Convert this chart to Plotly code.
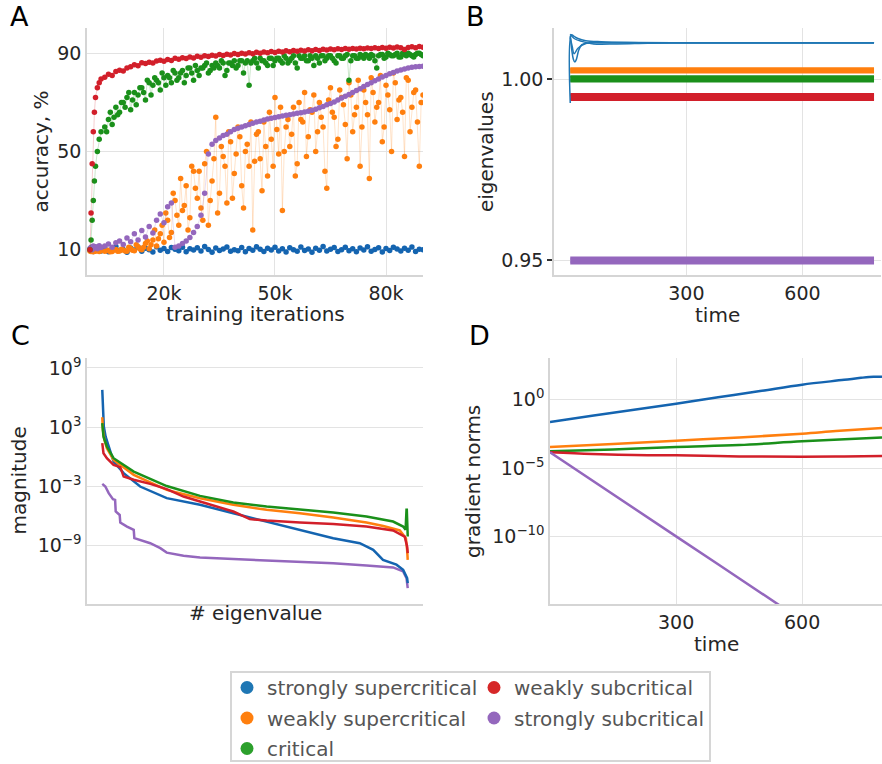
import plotly.graph_objects as go

W, H = 882, 764

# ---------------- Panel A: accuracy vs training iterations ----------------
ITER = [0, 300, 600, 900, 1200, 1500, 2000, 2500, 3000] + list(range(4000, 91000, 1000))
ITER_HALF = list(range(4500, 90000, 1000))

ACC_BLUE = [10.2, 9.6, 10.8, 9.3, 10.5, 11.0, 9.8, 10.3, 9.5,
            10.9, 9.2, 10.4, 11.3, 9.7, 10.1, 9.0, 10.7, 9.9, 11.1,
            9.4, 10.6, 10.0, 9.1, 11.2, 9.8, 10.5, 9.3, 10.9, 10.2,
            9.6, 11.0, 9.2, 10.4, 9.9, 10.8, 9.5, 11.3, 10.1, 9.0,
            10.7, 9.7, 10.3, 11.1, 9.4, 10.0, 9.6, 10.9, 9.2, 10.5,
            9.8, 11.2, 10.2, 9.3, 10.6, 9.9, 11.0, 9.5, 10.4, 9.1,
            10.8, 10.0, 9.4, 11.1, 9.7, 10.3, 9.0, 10.6, 9.8, 11.3,
            9.5, 10.2, 10.9, 9.3, 10.0, 11.0, 9.6, 10.4, 9.2, 10.7,
            9.9, 11.2, 9.4, 10.1, 10.8, 9.1, 10.5, 9.7, 11.0, 10.3,
            9.5, 10.6, 9.8, 11.1, 9.3, 10.2, 10.0]
ACC_ORANGE = [9.5, 9.3, 9.8, 9.2, 9.6, 9.4, 9.7, 9.3, 9.6,
              9.4, 9.8, 9.3, 10.1, 9.5, 9.9, 9.4, 10.5, 9.6, 11.2,
              10.0, 12.5, 10.4, 14.0, 11.5, 16.5, 13.0, 22.0, 17.0, 30.0,
              20.0, 26.0, 36.0, 23.0, 42.0, 31.0, 27.0, 45.0, 20.0, 38.0,
              64.0, 33.0, 48.0, 29.0, 54.0, 41.0, 60.0, 36.0, 50.0, 44.0,
              18.0, 57.0, 47.0, 62.0, 40.0, 55.0, 72.0, 49.0, 26.0, 60.0,
              52.0, 68.0, 45.0, 63.0, 74.0, 56.0, 66.0, 50.0, 70.0, 60.0,
              35.0, 76.0, 64.0, 55.0, 72.0, 61.0, 78.0, 58.0, 68.0, 44.0,
              75.0, 65.0, 80.0, 62.0, 70.0, 54.0, 77.0, 67.0, 82.0, 63.0,
              72.0, 48.0, 79.0, 68.0, 75.0, 44.0, 73.0]
ACC_ORANGE_HALF = [9.6, 9.2, 9.9, 9.4, 10.2, 9.5, 11.0, 9.8, 12.0, 10.3,
                   11.0, 13.5, 12.0, 18.0, 14.5, 20.0, 25.0, 15.0, 33.0, 24.0,
                   39.0, 28.0, 18.0, 44.0, 35.0, 42.0, 22.0, 50.0, 30.0, 47.0,
                   25.0, 52.0, 44.0, 58.0, 31.0, 49.0, 56.0, 27.0, 53.0, 62.0,
                   46.0, 58.0, 34.0, 52.0, 66.0, 44.0, 59.0, 68.0, 50.0, 63.0,
                   57.0, 40.0, 70.0, 62.0, 48.0, 67.0, 73.0, 58.0, 64.0, 42.0,
                   71.0, 66.0, 52.0, 75.0, 69.0, 47.0, 73.0, 65.0, 79.0, 60.0,
                   70.0, 39.0, 74.0, 68.0, 81.0, 60.0, 73.0, 50.0, 78.0, 71.0,
                   66.0, 80.0, 58.0, 74.0, 62.0, 70.0]
ACC_GREEN = [10, 14, 22, 30, 38, 44, 50, 55, 58,
             60, 63, 61, 68, 66, 70, 72, 67, 74, 73,
             76, 71, 78, 77, 79, 75, 80, 81, 78, 82,
             80, 83, 81, 84, 79, 83, 84, 85, 82, 85,
             86, 84, 86, 83, 86, 87, 85, 87, 86, 77,
             87, 86, 88, 87, 85, 88, 87, 88, 86, 88,
             87, 89, 84, 88, 89, 87, 88, 89, 86, 89,
             88, 89, 87, 89, 88, 89, 79, 89, 88, 89.5,
             88, 89, 89.5, 87, 89, 89.5, 88.5, 89.5, 89, 90,
             88.5, 89.5, 90, 89, 89.5, 90, 89]
ACC_GREEN_HALF = [58, 66, 64, 65, 70, 68, 74, 71, 69, 76,
                  74, 79, 73, 80, 78, 82, 77, 80, 83, 79,
                  82, 78, 84, 82, 85, 81, 84, 86, 83, 84,
                  85, 87, 81, 86, 85, 84, 87, 82, 87, 86,
                  88, 84, 87, 86, 88, 85, 88, 87, 89, 86,
                  88, 86, 89, 88, 87, 89, 85, 88, 89, 87,
                  89, 88, 86, 89, 88, 89.5, 87, 89, 88, 89,
                  89.5, 88, 89, 84, 89.5, 88, 90, 89, 89.5, 88.5,
                  90, 89, 89.5, 88.5, 90, 89.5]
ACC_RED = [10, 25, 45, 58, 66, 72, 76, 78, 79.5,
           80.2, 81.5, 81.0, 82.6, 83.1, 82.8, 84.0, 84.5, 85.3, 84.9,
           86.1, 85.8, 86.4, 86.0, 86.9, 87.2, 86.8, 87.5, 87.1, 88.0,
           87.6, 88.2, 87.9, 88.5, 88.1, 88.8, 88.4, 89.0, 88.7, 89.2,
           88.9, 89.5, 89.1, 89.6, 89.3, 89.9, 89.5, 90.0, 89.7, 90.2,
           89.8, 90.4, 90.0, 90.5, 90.2, 90.7, 90.3, 90.8, 90.5, 91.0,
           90.6, 91.1, 90.8, 91.2, 90.9, 91.4, 91.0, 91.5, 91.1, 91.6,
           91.3, 91.7, 91.4, 91.8, 91.5, 91.9, 91.6, 92.0, 91.7, 92.1,
           91.8, 92.2, 91.9, 92.3, 92.0, 92.4, 92.1, 92.5, 92.2, 92.6,
           92.3, 91.5, 92.4, 92.7, 92.3, 92.8, 92.5]
ACC_PURPLE = [10.5, 11.0, 10.0, 11.5, 10.8, 11.2, 10.4, 11.6, 10.9,
              11.5, 12.3, 11.0, 12.8, 13.5, 12.1, 14.8, 13.2, 16.5, 14.0,
              17.8, 15.2, 19.5, 16.8, 22.0, 24.5, 21.0, 27.5, 29.0, 11.0,
              11.5, 12.5, 13.5, 15.0, 17.0, 19.5, 24.0, 33.0, 49.0, 53.0,
              54.5, 55.5, 56.5, 57.0, 58.0, 59.0, 59.5, 60.0, 60.5, 61.0,
              61.5, 62.0, 62.3, 62.8, 63.2, 63.5, 63.8, 64.2, 64.5, 64.8,
              65.0, 65.3, 65.6, 65.8, 66.1, 66.4, 66.8, 67.2, 67.8, 68.3,
              69.0, 69.5, 70.2, 71.0, 71.8, 72.5, 73.2, 74.0, 74.8, 75.6,
              76.5, 77.3, 78.0, 78.8, 79.5, 80.3, 81.0, 81.7, 82.2, 82.8,
              83.2, 83.6, 84.0, 84.3, 84.5, 84.6, 84.7]

# ---------------- Panel B: eigenvalues over time ----------------
B_T_END = 785
BLUE_EIG_T = [
    [0, 3, 10, 20, 40, 80, 150, 264, 785],
    [0, 4, 8, 12, 16, 22, 30, 50, 100, 785],
    [0, 5, 10, 20, 40, 100, 200, 785],
    [0, 10, 30, 60, 120, 200, 264, 785],
]
BLUE_EIG_V = [
    [0.9934, 1.0122, 1.0118, 1.0112, 1.0106, 1.0103, 1.0101, 1.0100, 1.0100],
    [1.0120, 1.0080, 1.0055, 1.0047, 1.0055, 1.0080, 1.0095, 1.0100, 1.0100, 1.0100],
    [1.0115, 1.0090, 1.0070, 1.0085, 1.0098, 1.0101, 1.0100, 1.0100],
    [1.0124, 1.0112, 1.0104, 1.0097, 1.0097, 1.0099, 1.0100, 1.0100],
]
ORANGE_EIG = [1.0018, 1.0021, 1.0024, 1.0027, 1.0030]
GREEN_EIG = [0.9993, 0.9996, 0.9999, 1.0002, 1.0006, 1.0008]
RED_EIG = [0.9942, 0.9945, 0.9949, 0.9953, 0.9956, 0.9959]
PURPLE_EIG = [0.9491, 0.9495, 0.9499, 0.9503, 0.9507]

# ---------------- Panel C: eigenvalue spectrum ----------------
C_BLUE_X = [0, 2, 5, 11, 21, 37, 70, 124, 211, 320, 429, 538, 647, 756, 843, 887, 919, 963, 985, 998, 1000]
C_BLUE_Y = [5.9e6, 1.2e5, 1.2e3, 1.1e2, 11, 0.33, 0.022, 9.8e-4, 6.5e-5, 1.4e-5, 1.9e-6, 2.8e-7,
            4.1e-8, 5.8e-9, 1.8e-9, 3.8e-10, 3.7e-11, 1.2e-11, 3.6e-12, 5.2e-13, 1.6e-13]
C_ORANGE_X = [0, 2, 7, 15, 37, 103, 211, 320, 429, 538, 647, 756, 865, 920, 974, 994, 998, 1000]
C_ORANGE_Y = [1.0e4, 5.4e2, 51, 7.4, 0.49, 0.015, 4.5e-4, 6.4e-5, 1.4e-5, 4.3e-6, 1.9e-6, 7.2e-7,
              2.2e-7, 1.0e-7, 3.5e-8, 5.8e-9, 3.8e-10, 3.7e-11]
C_GREEN_X = [0, 4, 15, 37, 103, 211, 320, 429, 538, 647, 756, 865, 952, 985, 993, 996, 997, 1000]
C_GREEN_Y = [2.5e3, 1.1e2, 11, 0.72, 0.032, 1.1e-3, 1.1e-4, 2.4e-5, 9.3e-6, 5.0e-6, 2.3e-6, 9.1e-7,
             2.8e-7, 8.7e-8, 4.1e-8, 4.3e-6, 4.3e-6, 8.5e-9]
C_RED_X = [0, 4, 15, 37, 59, 70, 103, 157, 211, 266, 320, 374, 429, 483, 538, 647, 756, 865, 952, 990, 998, 1000]
C_RED_Y = [24, 2.3, 0.72, 0.15, 0.089, 0.010, 4.7e-3, 1.8e-3, 5.3e-4, 9.5e-5, 2.95e-5, 9.3e-6, 2.9e-6,
           4.9e-7, 3.5e-7, 2.2e-7, 1.6e-7, 8.7e-8, 3.5e-8, 8.5e-9, 8.3e-10, 1.8e-10]
C_PURPLE_X = [0, 10, 21, 35, 42, 44, 57, 59, 81, 103, 105, 124, 157, 190, 211, 266, 320, 429, 538, 647,
              756, 865, 952, 985, 996, 1000]
C_PURPLE_Y = [1.8e-3, 9.8e-4, 2.1e-4, 5.1e-5, 4.4e-5, 2.9e-6, 1.3e-6, 2.2e-7, 8.7e-8, 4.1e-8, 5.8e-9,
              4.0e-9, 1.8e-9, 5.6e-10, 2.0e-10, 9.5e-11, 6.5e-11, 4.4e-11, 3.2e-11, 2.5e-11, 1.7e-11,
              1.0e-11, 6.3e-12, 2.5e-12, 5.2e-13, 5.0e-14]

# ---------------- Panel D: gradient norms ----------------
D_BLUE_T = [0, 100, 200, 300, 400, 500, 600, 700, 740, 770, 790]
D_BLUE_Y = [0.0234, 0.066, 0.182, 0.513, 1.48, 4.27, 12.6, 28.2, 39.8, 47.9, 46.8]
D_ORANGE_T = [0, 150, 300, 450, 600, 680, 790]
D_ORANGE_Y = [3.47e-4, 5.62e-4, 1.0e-3, 1.74e-3, 3.24e-3, 5.01e-3, 8.51e-3]
D_GREEN_T = [0, 150, 300, 450, 600, 790]
D_GREEN_Y = [1.66e-4, 2.24e-4, 3.47e-4, 4.79e-4, 8.91e-4, 1.74e-3]
D_RED_T = [0, 100, 200, 300, 450, 600, 700, 790]
D_RED_Y = [1.41e-4, 1.05e-4, 8.9e-5, 8.5e-5, 7.1e-5, 6.8e-5, 7.1e-5, 7.6e-5]
D_PURPLE_T = [0, 300, 600, 790]
D_PURPLE_Y = [1.41e-4, 1.0e-10, 7.1e-17, 8.9e-21]

LEGEND_NAMES = ["strongly supercritical", "weakly supercritical", "critical",
                "weakly subcritical", "strongly subcritical"]
LEGEND_COLORS = ["#1f77b4", "#ff7f0e", "#2ca02c", "#d62728", "#9467bd"]

BLUE, ORANGE, GREEN, RED, PURPLE = "#1464b0", "#ff7f0e", "#1a901a", "#d21f2a", "#9467bd"


def rgba(hexc, a):
    h = hexc.lstrip("#")
    return "rgba(%d,%d,%d,%.2f)" % (int(h[0:2], 16), int(h[2:4], 16), int(h[4:6], 16), a)


def px2x(p):
    return p / W


def px2y(p):
    return 1 - p / H


def merged(xa, ya, xb, yb):
    pairs = sorted(list(zip(xa, ya)) + list(zip(xb, yb)))
    return [p[0] for p in pairs], [p[1] for p in pairs]


fig = go.Figure()

# Panel A
orange_x, orange_y = merged(ITER, ACC_ORANGE, ITER_HALF, ACC_ORANGE_HALF)
green_x, green_y = merged(ITER, ACC_GREEN, ITER_HALF, ACC_GREEN_HALF)
for xs, vals, col in [(ITER, ACC_BLUE, BLUE), (orange_x, orange_y, ORANGE), (ITER, ACC_PURPLE, PURPLE),
                      (green_x, green_y, GREEN), (ITER, ACC_RED, RED)]:
    fig.add_trace(go.Scatter(x=xs, y=vals, mode="lines+markers", xaxis="x", yaxis="y",
                             line=dict(color=rgba(col, 0.22), width=1),
                             marker=dict(color=col, size=5.5, line=dict(width=0)),
                             showlegend=False, hoverinfo="skip"))

# Panel B
for levels, col in [(PURPLE_EIG, PURPLE), (RED_EIG, RED), (GREEN_EIG, GREEN), (ORANGE_EIG, ORANGE)]:
    for v in levels:
        fig.add_trace(go.Scatter(x=[0, B_T_END], y=[v, v], mode="lines", xaxis="x2", yaxis="y2",
                                 line=dict(color=col, width=2), showlegend=False, hoverinfo="skip"))
for ts, vs in zip(BLUE_EIG_T, BLUE_EIG_V):
    fig.add_trace(go.Scatter(x=ts, y=vs, mode="lines", xaxis="x2", yaxis="y2",
                             line=dict(color="#1f77b4", width=1.5, shape="spline"),
                             showlegend=False, hoverinfo="skip"))

# Panel C
for xs, ys, col in [(C_PURPLE_X, C_PURPLE_Y, PURPLE), (C_BLUE_X, C_BLUE_Y, BLUE),
                    (C_ORANGE_X, C_ORANGE_Y, ORANGE), (C_RED_X, C_RED_Y, RED),
                    (C_GREEN_X, C_GREEN_Y, GREEN)]:
    fig.add_trace(go.Scatter(x=xs, y=ys, mode="lines", xaxis="x3", yaxis="y3",
                             line=dict(color=col, width=2.5), showlegend=False, hoverinfo="skip"))

# Panel D
for xs, ys, col in [(D_BLUE_T, D_BLUE_Y, BLUE), (D_ORANGE_T, D_ORANGE_Y, ORANGE),
                    (D_GREEN_T, D_GREEN_Y, GREEN), (D_RED_T, D_RED_Y, RED),
                    (D_PURPLE_T, D_PURPLE_Y, PURPLE)]:
    fig.add_trace(go.Scatter(x=xs, y=ys, mode="lines", xaxis="x4", yaxis="y4",
                             line=dict(color=col, width=2.5, shape="spline"),
                             showlegend=False, hoverinfo="skip"))

# Legend entries: first column in "legend", second column in "legend2"
for i in range(5):
    fig.add_trace(go.Scatter(x=[None], y=[None], mode="markers", name=LEGEND_NAMES[i],
                             marker=dict(color=LEGEND_COLORS[i], size=13), xaxis="x", yaxis="y",
                             legend="legend" if i < 3 else "legend2", legendrank=i + 1,
                             legendgroup="g%d" % i, showlegend=True))

FONT = "DejaVu Sans"
TXT = "#262626"
GRID = "#e3e3e3"
SPINE = "#d5d5d5"
TICKF = dict(family=FONT, size=19, color=TXT)

common = dict(showgrid=True, gridcolor=GRID, gridwidth=1, showline=True, linecolor=SPINE,
              linewidth=1.5, zeroline=False, tickfont=TICKF, ticks="", mirror=False)

dA_x = [px2x(87), px2x(423)]
dB_x = [px2x(554), px2x(881)]
dC_x = [px2x(87), px2x(423)]
dD_x = [px2x(550), px2x(882)]
dTop_y = [px2y(275), px2y(28)]
dBot_y = [px2y(604), px2y(358)]

LEGF = dict(family=FONT, size=20, color="#555555")

fig.update_layout(
    width=W, height=H, margin=dict(l=0, r=0, t=0, b=0, autoexpand=False),
    paper_bgcolor="white", plot_bgcolor="white",
    font=dict(family=FONT, color=TXT),
    xaxis=dict(domain=dA_x, anchor="y", range=[-800, 90000],
               tickvals=[20000, 50000, 80000], ticktext=["20k", "50k", "80k"], **common),
    yaxis=dict(domain=dTop_y, anchor="x", range=[-0.3, 100.3], tickvals=[10, 50, 90], **common),
    xaxis2=dict(domain=dB_x, anchor="y2", range=[-42, 803], tickvals=[300, 600], **common),
    yaxis2=dict(domain=dTop_y, anchor="x2", range=[0.9459, 1.0141], tickvals=[0.95, 1.00],
                ticktext=["0.95", "1.00"], **{**common, "ticks": "outside", "ticklen": 5,
                                                 "tickcolor": "#333", "tickwidth": 1.5}),
    xaxis3=dict(domain=dC_x, anchor="y3", range=[-50, 1050], showticklabels=False,
                **{**common, "showgrid": False}),
    yaxis3=dict(domain=dBot_y, anchor="x3", type="log", range=[-14.9, 10.0],
                tickvals=[1e9, 1e3, 1e-3, 1e-9],
                ticktext=["10<sup>9</sup>", "10<sup>3</sup>", "10<sup>−3</sup>", "10<sup>−9</sup>"],
                **common),
    xaxis4=dict(domain=dD_x, anchor="y4", range=[0, 790], tickvals=[300, 600], **common),
    yaxis4=dict(domain=dBot_y, anchor="x4", type="log", range=[-14.95, 3.05],
                tickvals=[1e0, 1e-5, 1e-10],
                ticktext=["10<sup>0</sup>", "10<sup>−5</sup>", "10<sup>−10</sup>"], **common),
    legend=dict(orientation="v", x=px2x(227), y=px2y(668), xanchor="left", yanchor="top",
                bgcolor="rgba(0,0,0,0)", borderwidth=0, font=LEGF, itemsizing="trace",
                traceorder="grouped", tracegroupgap=1.5),
    legend2=dict(orientation="v", x=px2x(474), y=px2y(668), xanchor="left", yanchor="top",
                 bgcolor="rgba(0,0,0,0)", borderwidth=0, font=LEGF, itemsizing="trace",
                 traceorder="grouped", tracegroupgap=1.5),
    shapes=[dict(type="rect", xref="paper", yref="paper", x0=px2x(231), x1=px2x(710),
                 y0=px2y(761), y1=px2y(672), line=dict(color="#d6d6d6", width=2),
                 fillcolor="rgba(0,0,0,0)", layer="below")],
)

annots = []
# panel letters
for letter, xp, yp in [("A", 19, 17), ("B", 475, 17), ("C", 20, 335), ("D", 479, 335)]:
    annots.append(dict(text=letter, x=px2x(xp), y=px2y(yp), xref="paper", yref="paper",
                       showarrow=False, xanchor="center", yanchor="middle",
                       font=dict(family=FONT, size=27, color="black")))
# axis titles
TF = dict(family=FONT, size=20, color=TXT)
for txt, xp, yp, ang in [("accuracy, %", 41, 151.5, -90), ("training iterations", 255, 314, 0),
                         ("eigenvalues", 486.5, 151.5, -90), ("time", 717.5, 315, 0),
                         ("magnitude", 18.5, 481, -90), ("# eigenvalue", 255, 613, 0),
                         ("gradient norms", 473, 481, -90), ("time", 716, 644, 0)]:
    annots.append(dict(text=txt, x=px2x(xp), y=px2y(yp), xref="paper", yref="paper",
                       showarrow=False, xanchor="center", yanchor="middle", textangle=ang, font=TF))
fig.update_layout(annotations=annots)

fig.write_html("out.html")
